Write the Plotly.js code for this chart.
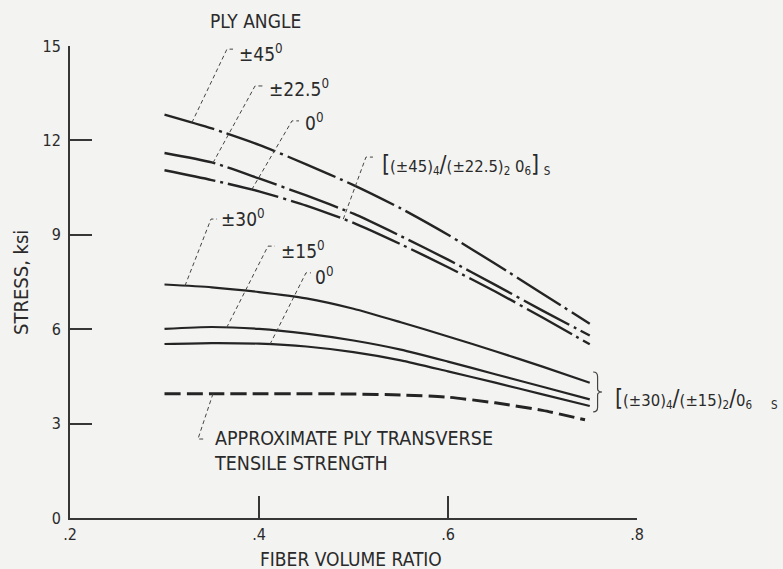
<!DOCTYPE html>
<html>
<head>
<meta charset="utf-8">
<script src="https://cdn.plot.ly/plotly-3.0.1.min.js"></script>
<style>
  html, body { margin: 0; padding: 0; background: #f3f3f1; }
  #chart { width: 783px; height: 569px; }
</style>
</head>
<body>
<div id="chart"></div>
<script>
// Fiber volume ratio (x) shared by the laminate curves
const fiberRatio = [0.30, 0.35, 0.40, 0.45, 0.50, 0.55, 0.60, 0.65, 0.70, 0.75];

// [(±45)4/(±22.5)2 06]s laminate, stress in ksi by ply angle
const stress45 = [12.82, 12.38, 11.86, 11.24, 10.58, 9.84, 9.00, 8.08, 7.13, 6.17];
const stress225 = [11.60, 11.30, 10.79, 10.25, 9.67, 8.96, 8.21, 7.41, 6.59, 5.80];
const stress0a = [11.05, 10.74, 10.38, 9.93, 9.38, 8.70, 7.97, 7.20, 6.37, 5.52];

// [(±30)4/(±15)2/06]s laminate, stress in ksi by ply angle
const stress30 = [7.42, 7.33, 7.18, 6.98, 6.65, 6.22, 5.77, 5.30, 4.81, 4.30];
const stress15 = [6.01, 6.07, 6.01, 5.86, 5.64, 5.35, 4.97, 4.57, 4.17, 3.77];
const stress0b = [5.53, 5.56, 5.54, 5.45, 5.27, 5.01, 4.66, 4.30, 3.93, 3.56];

// Approximate ply transverse tensile strength
const transverseRatio = [0.30, 0.35, 0.40, 0.45, 0.50, 0.55, 0.60, 0.65, 0.70, 0.745];
const transverseStrength = [3.95, 3.95, 3.95, 3.95, 3.94, 3.91, 3.84, 3.66, 3.42, 3.12];

// Axis ticks
const xTickVals = [0.2, 0.4, 0.6, 0.8];
const xTickText = ['.2', '.4', '.6', '.8'];
const yTickVals = [0, 3, 6, 9, 12, 15];

const FONT = 'Liberation Sans Narrow, Arial Narrow, DejaVu Sans Condensed, sans-serif';
const INK = '#242424';
const TXT = '#2a2a2a';

function curve(x, y, dash, width) {
  return {
    x: x, y: y, type: 'scatter', mode: 'lines', hoverinfo: 'skip',
    line: { color: INK, width: width, dash: dash, shape: 'spline', smoothing: 0.6 }
  };
}

const dashDot = '52px,5px,3px,5px';
const traces = [
  curve(fiberRatio, stress45, dashDot, 2.4),
  curve(fiberRatio, stress225, dashDot, 2.4),
  curve(fiberRatio, stress0a, dashDot, 2.4),
  curve(fiberRatio, stress30, 'solid', 2.2),
  curve(fiberRatio, stress15, 'solid', 2.2),
  curve(fiberRatio, stress0b, 'solid', 2.2),
  curve(transverseRatio, transverseStrength, '16px,6px', 3)
];

// value of a curve at x (linear between points)
function at(xs, ys, x) {
  for (let i = 0; i < xs.length - 1; i++) {
    if (x >= xs[i] && x <= xs[i + 1]) {
      const t = (x - xs[i]) / (xs[i + 1] - xs[i]);
      return ys[i] + t * (ys[i + 1] - ys[i]);
    }
  }
  return ys[ys.length - 1];
}

// dashed leader from a point on a curve to its label, ending in a short hook
function leader(xs, ys, footX, bendX, bendY, hookX) {
  const fy = at(xs, ys, footX);
  return {
    type: 'path', xref: 'x', yref: 'y',
    path: 'M' + footX + ',' + fy + ' L' + bendX + ',' + bendY + ' L' + hookX + ',' + bendY,
    line: { color: '#444', width: 1, dash: '4px,3px' }
  };
}

const shapes = [
  leader(fiberRatio, stress45, 0.329, 0.3661, 14.90, 0.3725),
  leader(fiberRatio, stress225, 0.3513, 0.3958, 13.73, 0.4042),
  leader(fiberRatio, stress0a, 0.3923, 0.4349, 12.62, 0.4423),
  leader(fiberRatio, stress0a, 0.4892, 0.5132, 11.47, 0.5206),
  leader(fiberRatio, stress30, 0.3217, 0.3492, 9.50, 0.3556),
  leader(fiberRatio, stress15, 0.3658, 0.4095, 8.64, 0.4169),
  leader(fiberRatio, stress0b, 0.4116, 0.4497, 7.79, 0.4550),
  leader(transverseRatio, transverseStrength, 0.3513, 0.3354, 2.51, 0.3429)
];

// brace grouping the ends of the lower laminate curves
(function () {
  const x0 = 0.7536, x1 = 0.7630, xm = (x0 + x1) / 2;
  const top = stress30[stress30.length - 1] + 0.34;
  const bot = stress0b[stress0b.length - 1] - 0.19;
  const mid = (top + bot) / 2;
  shapes.push({
    type: 'path', xref: 'x', yref: 'y',
    path: 'M' + x0 + ',' + top + ' Q' + xm + ',' + top + ' ' + xm + ',' + (top - 0.15) +
      ' L' + xm + ',' + (mid + 0.1) + ' Q' + xm + ',' + mid + ' ' + x1 + ',' + mid +
      ' Q' + xm + ',' + mid + ' ' + xm + ',' + (mid - 0.1) +
      ' L' + xm + ',' + (bot + 0.15) + ' Q' + xm + ',' + bot + ' ' + x0 + ',' + bot,
    line: { color: '#444', width: 1.2 }
  });
})();

function label(text, x, y, size, opts) {
  return Object.assign({
    text: text, x: x, y: y, xref: 'x', yref: 'y', showarrow: false,
    xanchor: 'left', yanchor: 'middle',
    font: { family: FONT, size: size, color: TXT }
  }, opts || {});
}

// labels placed on the page rather than on the axes (outside the axis ranges)
function pageLabel(text, x, y, size, opts) {
  return label(text, x, y, size, Object.assign({ xref: 'paper', yref: 'paper', xanchor: 'center' }, opts || {}));
}

const big = s => '<span style="font-size:23px">' + s + '</span>';

const annotations = [
  pageLabel('PLY ANGLE', 0.3263, 1.053, 19),
  label('±45<sup>0</sup>', 0.3767, 14.78, 19),
  label('±22.5<sup>0</sup>', 0.4085, 13.66, 19),
  label('0<sup>0</sup>', 0.4466, 12.58, 19),
  label('±30<sup>0</sup>', 0.3577, 9.53, 19),
  label('±15<sup>0</sup>', 0.4212, 8.52, 19),
  label('0<sup>0</sup>', 0.4571, 7.69, 19),
  label(big('[') + '(±45)<sub>4</sub>' + big('/') + '(±22.5)<sub>2</sub> 0<sub>6</sub>' + big(']') + ' <sub>S</sub>',
    0.528, 11.22, 16.5),
  label(big('[') + '(±30)<sub>4</sub>' + big('/') + '(±15)<sub>2</sub>' + big('/') + '0<sub>6</sub>    <sub>S</sub>',
    0.7746, 3.81, 16.5),
  label('APPROXIMATE PLY TRANSVERSE<br>TENSILE STRENGTH', 0.3503, 2.13, 19.5, { align: 'left' }),
  pageLabel('FIBER VOLUME RATIO', 0.4956, -0.087, 19),
  pageLabel('STRESS, ksi', -0.0864, 0.4979, 20, { textangle: -90 })
];

const axisCommon = {
  showline: true, linecolor: '#363636', linewidth: 2,
  ticks: 'inside', ticklen: 22, tickwidth: 2, tickcolor: '#363636',
  showgrid: false, zeroline: false, fixedrange: true,
  tickfont: { family: FONT, size: 16, color: TXT }
};

const layout = {
  width: 783, height: 569,
  margin: { l: 70, r: 146, t: 46, b: 51 },
  paper_bgcolor: '#f3f3f1', plot_bgcolor: '#f3f3f1',
  showlegend: false,
  xaxis: Object.assign({}, axisCommon, {
    range: [0.2, 0.8], tickmode: 'array', tickvals: xTickVals, ticktext: xTickText,
    ticklabelstandoff: 1
  }),
  yaxis: Object.assign({}, axisCommon, {
    range: [0, 15], tickmode: 'array', tickvals: yTickVals,
    ticklabelstandoff: 4
  }),
  shapes: shapes,
  annotations: annotations
};

Plotly.newPlot('chart', traces, layout, { staticPlot: true, displayModeBar: false });
</script>
</body>
</html>
